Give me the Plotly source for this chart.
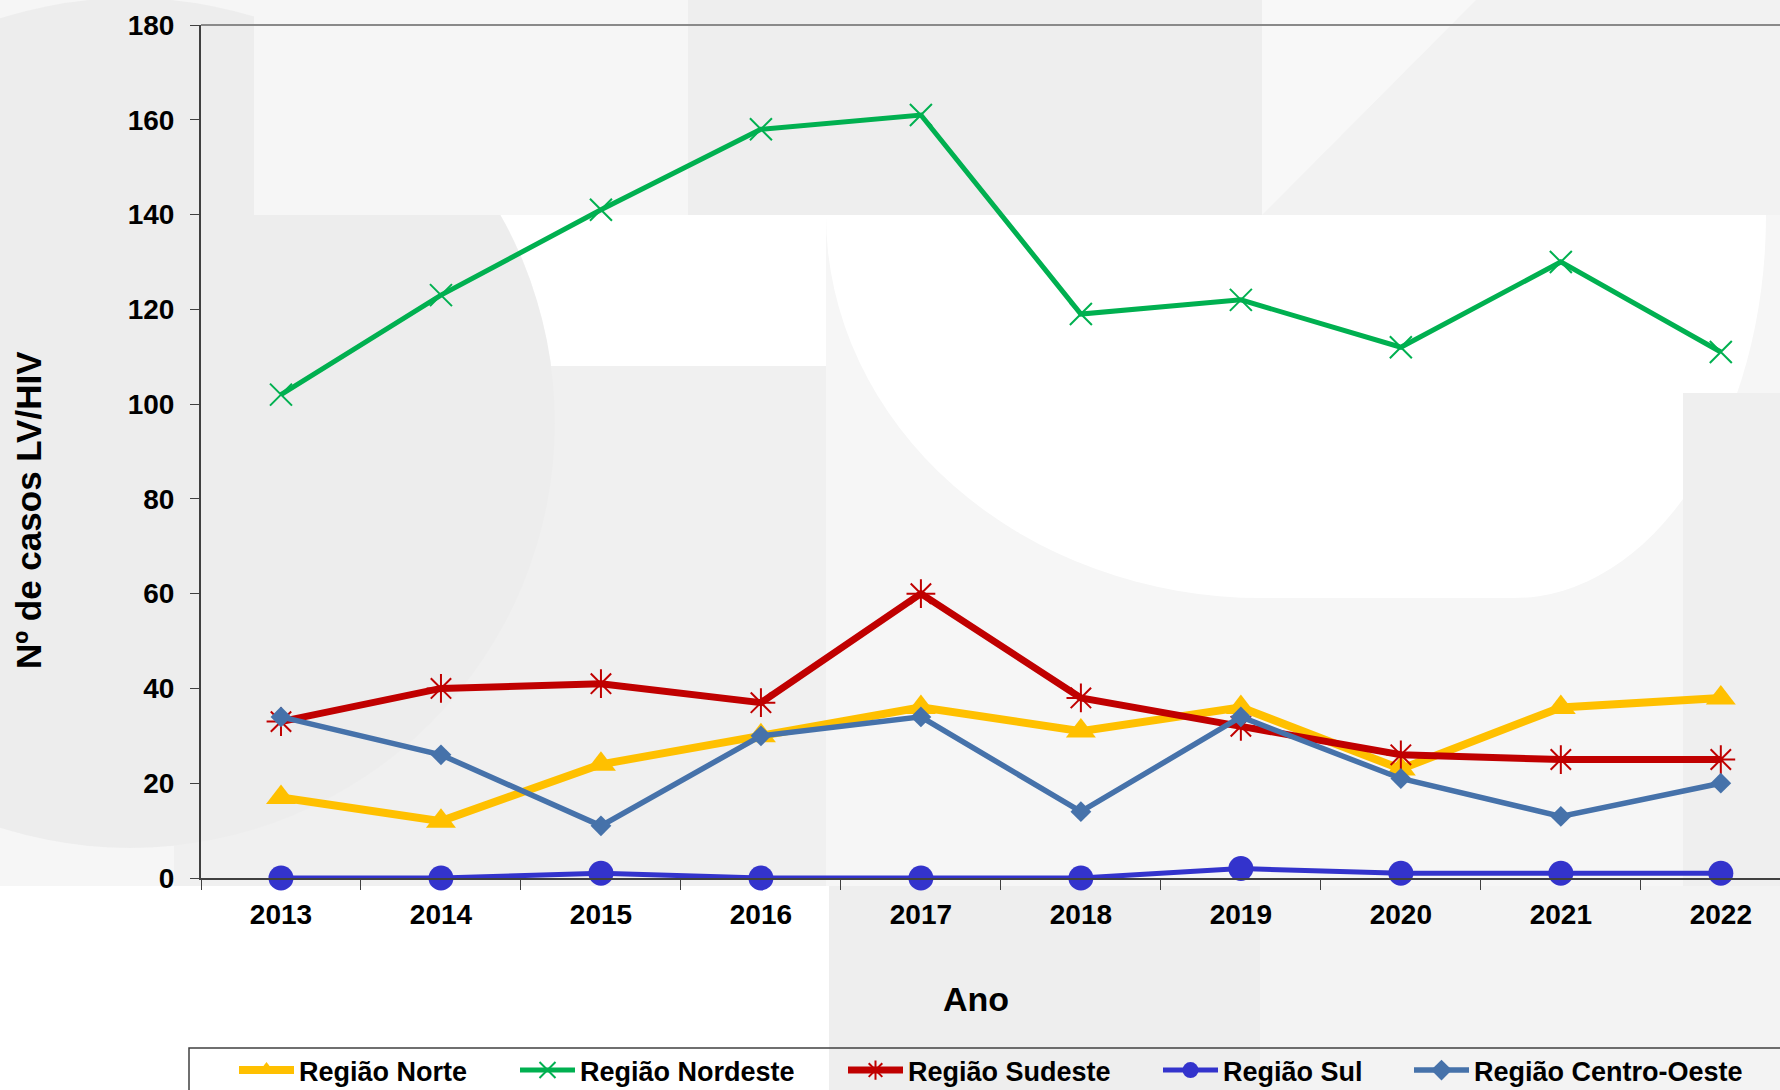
import plotly.graph_objects as go

years = ["2013", "2014", "2015", "2016", "2017", "2018", "2019", "2020", "2021", "2022"]
norte = [17, 12, 24, 30, 36, 31, 36, 23, 36, 38]
nordeste = [102, 123, 141, 158, 161, 119, 122, 112, 130, 111]
sudeste = [33, 40, 41, 37, 60, 38, 32, 26, 25, 25]
sul = [0, 0, 1, 0, 0, 0, 2, 1, 1, 1]
centro_oeste = [34, 26, 11, 30, 34, 14, 34, 21, 13, 20]
y_ticks = [0, 20, 40, 60, 80, 100, 120, 140, 160, 180]

# plot area in page pixels
L, R, T, B = 201, 1780, 25, 878


def fx(px):
    return (px - L) / (R - L)


def fy(py):
    return (B - py) / (B - T)


def rect(x0, y0, x1, y1, color, kind="rect"):
    return dict(type=kind, xref="paper", yref="paper", x0=fx(x0), x1=fx(x1),
                y0=fy(y1), y1=fy(y0), fillcolor=color, line=dict(width=0), layer="below")


shapes = [
    rect(0, 0, 254, 366, "#f6f6f6"),
    rect(0, 366, 174, 886, "#f6f6f6"),
    rect(-295, -2, 555, 848, "#f0f0f0", "circle"),
    rect(174, 366, 1050, 886, "#f0f0f0"),
    rect(-295, -2, 555, 848, "rgba(0,0,0,0.012)", "circle"),
    rect(826, 215, 1780, 886, "#f6f6f6"),
    rect(826, -168, 1698, 598, "#ffffff", "circle"),
    rect(1262, -168, 1766, 598, "#ffffff", "circle"),
    rect(1262, 215, 1514, 598, "#ffffff"),
    rect(254, 0, 688, 215, "#f6f6f6"),
    rect(688, 0, 1262, 215, "#eeeeee"),
    rect(1262, 0, 1780, 215, "#f2f2f2"),
    dict(type="path", xref="paper", yref="paper", layer="below", line=dict(width=0),
         fillcolor="#f8f8f8",
         path=f"M {fx(1262)},{fy(215)} L {fx(1476)},{fy(0)} L {fx(1262)},{fy(0)} Z"),
    rect(829, 886, 1260, 1090, "#eeeeee"),
    rect(1260, 886, 1780, 1090, "#f3f3f3"),
    rect(1683, 393, 1780, 886, "#efefef"),
    # top border of plot area
    dict(type="line", xref="paper", yref="paper", x0=0, x1=1, y0=1, y1=1,
         line=dict(color="#8a8a8a", width=2), layer="above"),
    # legend frame
    dict(type="rect", xref="paper", yref="paper", x0=fx(189), x1=fx(1830), y0=fy(1120), y1=fy(1048),
         line=dict(color="#404040", width=1.5), fillcolor="rgba(0,0,0,0)", layer="above"),
]

fig = go.Figure()
series = [
    ("Região Norte", norte, "#FFC000", 8, dict(symbol="triangle-up", size=26, color="#FFC000")),
    ("Região Nordeste", nordeste, "#00B050", 5, dict(symbol="x-thin-open", size=22, color="#00B050",
                                                      line=dict(width=2, color="#00B050"))),
    ("Região Sudeste", sudeste, "#C00000", 7, dict(symbol="asterisk-open", size=24, color="#C00000",
                                                    line=dict(width=2, color="#C00000"))),
    ("Região Sul", sul, "#3333CC", 5, dict(symbol="circle", size=25, color="#3333CC")),
    ("Região Centro-Oeste", centro_oeste, "#4672AA", 5.5, dict(symbol="diamond", size=16, color="#4672AA")),
]
legend_x = [234, 515, 843, 1158, 1409]
legend_font = dict(family="Liberation Sans", size=27, color="black", weight="bold")

layout_legends = {}
for i, ((name, vals, color, lw, marker), lx) in enumerate(zip(series, legend_x)):
    key = "legend" if i == 0 else f"legend{i + 1}"
    fig.add_trace(go.Scatter(x=years, y=vals, name=name, mode="lines+markers", legend=key,
                             line=dict(color=color, width=lw), marker=marker, cliponaxis=False))
    layout_legends[key] = dict(orientation="h", x=fx(lx), y=fy(1046), xanchor="left", yanchor="top",
                               bgcolor="rgba(0,0,0,0)", borderwidth=0, font=legend_font,
                               itemwidth=55)

tick_font = dict(family="Liberation Sans", size=28, color="black", weight="bold")

fig.update_layout(
    width=1780, height=1090,
    margin=dict(l=L, r=1780 - R, t=T, b=1090 - B, autoexpand=False),
    paper_bgcolor="white",
    plot_bgcolor="rgba(0,0,0,0)",
    shapes=shapes,
    showlegend=True,
    xaxis=dict(type="category", range=[-0.5, 9.37], tickson="boundaries", ticks="outside",
               ticklen=10, tickcolor="#404040", showline=True, linecolor="#404040", linewidth=1.5,
               showgrid=False, zeroline=False, tickfont=tick_font, ticklabelstandoff=11),
    yaxis=dict(range=[0, 180], tickvals=y_ticks, ticks="outside", ticklen=9, tickcolor="#404040",
               showline=True, linecolor="#404040", linewidth=2, showgrid=False, zeroline=False,
               tickfont=tick_font, ticklabelstandoff=10),
    annotations=[
        dict(text="Nº de casos LV/HIV", xref="paper", yref="paper", x=fx(28), y=fy(510),
             textangle=-90, showarrow=False, xanchor="center", yanchor="middle",
             font=dict(family="Liberation Sans", size=35, color="black", weight="bold")),
        dict(text="Ano", xref="paper", yref="paper", x=fx(976), y=fy(999), showarrow=False,
             xanchor="center", yanchor="middle",
             font=dict(family="Liberation Sans", size=34, color="black", weight="bold")),
    ],
    **layout_legends,
)

fig.write_html("out.html", config={"displayModeBar": False},
               post_script="document.body.style.margin='0px';")
